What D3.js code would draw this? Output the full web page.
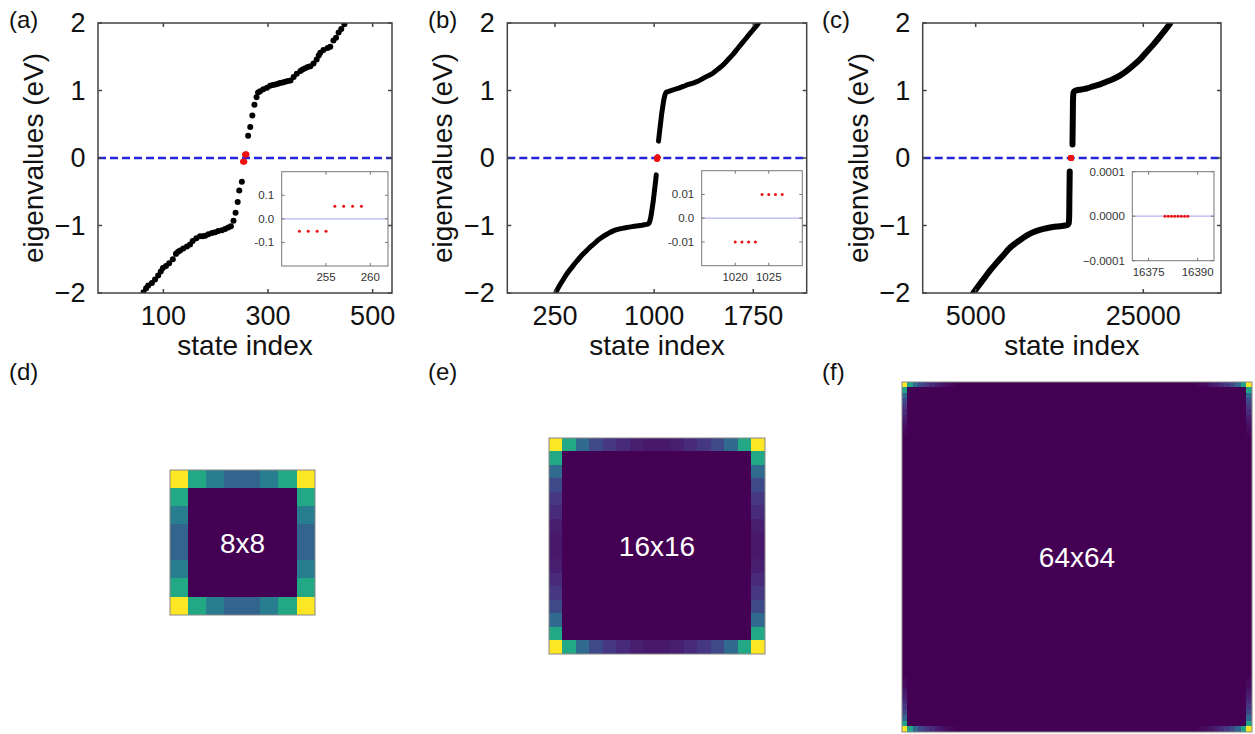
<!DOCTYPE html>
<html><head><meta charset="utf-8">
<script src="https://cdn.jsdelivr.net/npm/d3@7"></script>
<style>
body{margin:0;background:#fff;}
svg{display:block;font-family:"Liberation Sans",Arial,Helvetica,sans-serif;}
</style></head><body>
<svg id="fig" width="1255" height="734"></svg>
<script>
// ---------- spectra (state index, eigenvalue in eV) ----------
// 8x8 lattice: individual eigenvalues shown as dots
const stateA = [62,67,71,78,84,90,95,99,105,111,118,124,128,132,138,145,151,156,163,170,175,180,186,193,199,205,212,218,224,229,234,238,242,245,250,
  262,266,270,274,278,281,285,291,298,304,309,314,319,323,328,333,338,343,349,355,362,366,371,376,381,387,393,397,400,406,414,419,425,430,435,440,446];
const eigA = [-1.99,-1.93,-1.89,-1.85,-1.80,-1.74,-1.68,-1.63,-1.60,-1.56,-1.50,-1.42,-1.39,-1.37,-1.34,-1.31,-1.28,-1.23,-1.19,-1.16,-1.16,-1.15,-1.13,-1.11,-1.10,-1.08,-1.07,-1.05,-1.03,-1.01,-0.93,-0.81,-0.65,-0.48,-0.35,
  0.33,0.46,0.63,0.79,0.90,0.97,0.99,1.02,1.04,1.07,1.08,1.09,1.10,1.11,1.12,1.13,1.14,1.15,1.20,1.25,1.29,1.31,1.33,1.35,1.36,1.40,1.46,1.52,1.56,1.60,1.63,1.65,1.74,1.78,1.86,1.91,1.98];

// 16x16 lattice: valence and conduction branches
const specBLow = [[255,-2.0],[270,-1.94],[290,-1.87],[313,-1.80],[338,-1.72],[365,-1.65],[389,-1.59],[414,-1.53],[440,-1.47],[464,-1.42],[490,-1.37],[515,-1.32],[540,-1.28],[580,-1.21],[615,-1.16],[650,-1.12],[690,-1.08],[740,-1.05],[792,-1.03],[840,-1.015],[893,-1.0],[940,-0.985],[960,-0.97],[968,-0.93],[975,-0.87],[981,-0.80],[987,-0.72],[993,-0.64],[999,-0.54],[1005,-0.44],[1011,-0.34],[1016,-0.25]];
const specBHigh = [[1033,0.25],[1038,0.34],[1044,0.44],[1050,0.54],[1056,0.64],[1062,0.72],[1068,0.80],[1074,0.87],[1081,0.93],[1089,0.97],[1109,0.985],[1144,1.01],[1180,1.03],[1220,1.06],[1260,1.09],[1295,1.11],[1335,1.14],[1371,1.18],[1410,1.22],[1447,1.26],[1485,1.32],[1522,1.38],[1560,1.46],[1598,1.54],[1635,1.63],[1673,1.72],[1710,1.81],[1749,1.90],[1770,1.95],[1790,2.0]];

// 64x64 lattice: valence and conduction branches
const specCLow = [[4714,-2.0],[5300,-1.90],[5907,-1.80],[6700,-1.67],[7506,-1.55],[8300,-1.44],[9093,-1.33],[9900,-1.25],[10680,-1.18],[11500,-1.12],[12280,-1.08],[13100,-1.05],[13866,-1.03],[15000,-1.01],[15900,-0.995],[16100,-0.97],[16160,-0.85],[16180,-0.6],[16200,-0.4],[16220,-0.2]];
const specCHigh = [[16548,0.2],[16568,0.4],[16588,0.6],[16608,0.85],[16668,0.97],[16868,0.995],[17600,1.015],[18241,1.03],[19000,1.06],[19833,1.09],[20600,1.13],[21420,1.17],[22200,1.22],[23020,1.29],[23800,1.37],[24607,1.46],[25400,1.57],[26193,1.68],[26800,1.77],[27387,1.86],[28186,1.99]];

// in-gap (corner) states
const zeroStateA = [252,253,254,255,256,257,258,259];
const zeroEigA   = [-0.053,-0.053,-0.053,-0.053,0.053,0.053,0.053,0.053];
const zeroStateB = [1020,1021,1022,1023,1024,1025,1026,1027];
const zeroEigB   = [-0.01,-0.01,-0.01,-0.01,0.01,0.01,0.01,0.01];
const zeroStateC = [16380,16381,16382,16383,16384,16385,16386,16387];
const zeroEigC   = [0,0,0,0,0,0,0,0];

// axis ticks
const eigTicks = [-2,-1,0,1,2];
const eigTickLabels = ["\u22122","\u22121","0","1","2"];
const stateTicksA = [100,300,500];
const stateTicksB = [250,1000,1750];
const stateTicksC = [5000,25000];
const insetTicksA = {x:[255,260], y:[-0.1,0,0.1], yl:["-0.1","0.0","0.1"]};
const insetTicksB = {x:[1020,1025], y:[-0.01,0,0.01], yl:["-0.01","0.0","0.01"]};
const insetTicksC = {x:[16375,16390], y:[-0.0001,0,0.0001], yl:["\u22120.0001","0.0000","0.0001"]};

// corner-state weight along the lattice boundary, from a corner inward
const edge8  = [1.0, 0.6, 0.42, 0.32];
const edge16 = [1.0, 0.6, 0.34, 0.22, 0.16, 0.12, 0.085, 0.065];
const edge64 = [1.0, 0.58, 0.33, 0.22, 0.16, 0.12, 0.08, 0.05, 0.03, 0.015];

// ---------- drawing ----------
const svg = d3.select("#fig");
const TOP = 23, BOTTOM = 293;

function panelLabel(txt, x, y){
  svg.append("text").attr("x",x).attr("y",y).attr("font-size",24).attr("fill","#111").text(txt);
}

function framedTicks(g, x, y, xt, yt, len, color, sw){
  const [x0,x1] = x.range(), [y0,y1] = y.range(); // y0 bottom, y1 top
  const tk = g.append("g").attr("stroke",color).attr("stroke-width",sw);
  xt.forEach(v=>{
    tk.append("line").attr("x1",x(v)).attr("x2",x(v)).attr("y1",y0).attr("y2",y0-len);
    tk.append("line").attr("x1",x(v)).attr("x2",x(v)).attr("y1",y1).attr("y2",y1+len);
  });
  yt.forEach(v=>{
    tk.append("line").attr("y1",y(v)).attr("y2",y(v)).attr("x1",x0).attr("x2",x0+len);
    tk.append("line").attr("y1",y(v)).attr("y2",y(v)).attr("x1",x1).attr("x2",x1-len);
  });
  g.append("rect").attr("x",x0).attr("y",y1).attr("width",x1-x0).attr("height",y0-y1)
    .attr("fill","none").attr("stroke",color).attr("stroke-width",sw);
}

function eigPanel(cfg){
  const g = svg.append("g");
  const x = d3.scaleLinear().domain(cfg.xDomain).range([cfg.left, cfg.right]);
  const y = d3.scaleLinear().domain([-2,2]).range([BOTTOM, TOP]);
  const clipId = "clip-"+cfg.id;
  svg.append("clipPath").attr("id",clipId).append("rect")
    .attr("x",cfg.left).attr("y",TOP).attr("width",cfg.right-cfg.left).attr("height",BOTTOM-TOP);
  const plot = g.append("g").attr("clip-path",`url(#${clipId})`);

  plot.append("line").attr("x1",cfg.left).attr("x2",cfg.right).attr("y1",y(0)).attr("y2",y(0))
    .attr("stroke","#2424de").attr("stroke-width",2.4).attr("stroke-dasharray","8,4");

  if (cfg.dots){
    plot.selectAll("circle.s").data(d3.zip(cfg.dots[0], cfg.dots[1])).join("circle")
      .attr("cx",d=>x(d[0])).attr("cy",d=>y(d[1])).attr("r",3).attr("fill","#000");
  }
  if (cfg.lines){
    const line = d3.line().x(d=>x(d[0])).y(d=>y(d[1])).curve(d3.curveMonotoneX);
    cfg.lines.forEach(ln=>{
      plot.append("path").attr("d",line(ln)).attr("fill","none").attr("stroke","#000")
        .attr("stroke-width",cfg.lw).attr("stroke-linecap","round").attr("stroke-linejoin","round");
    });
  }
  plot.selectAll("circle.z").data(d3.zip(cfg.zero[0], cfg.zero[1])).join("circle")
    .attr("cx",d=>x(d[0])).attr("cy",d=>y(d[1])).attr("r",2.9).attr("fill","#ee1111");

  framedTicks(g, x, y, cfg.xTicks, eigTicks, 4, "#444", 1.5);

  // tick labels
  const lab = g.append("g").attr("font-size",27).attr("fill","#111");
  eigTicks.forEach((v,i)=>{
    lab.append("text").attr("x",cfg.left-12.5).attr("y",y(v)).attr("dy","0.35em")
      .attr("text-anchor","end").text(eigTickLabels[i]);
  });
  cfg.xTicks.forEach(v=>{
    lab.append("text").attr("x",x(v)).attr("y",BOTTOM+32).attr("text-anchor","middle").text(d3.format("d")(v));
  });
  g.append("text").attr("x",(cfg.left+cfg.right)/2).attr("y",355).attr("text-anchor","middle")
    .attr("font-size",28).attr("fill","#111").text("state index");
  g.append("text").attr("transform",`translate(${cfg.left-55},${(TOP+BOTTOM)/2}) rotate(-90)`)
    .attr("text-anchor","middle").attr("font-size",28).attr("fill","#111").text("eigenvalues (eV)");

  // inset zoom on the in-gap states
  const ins = cfg.inset;
  const ix = d3.scaleLinear().domain(ins.xDomain).range([ins.left, ins.right]);
  const iy = d3.scaleLinear().domain(ins.yDomain).range([ins.bottom, ins.top]);
  const ig = g.append("g");
  ig.append("rect").attr("x",ins.left).attr("y",ins.top).attr("width",ins.right-ins.left)
    .attr("height",ins.bottom-ins.top).attr("fill","#fff");
  ig.append("line").attr("x1",ins.left).attr("x2",ins.right).attr("y1",iy(0)).attr("y2",iy(0))
    .attr("stroke","#b3b5f2").attr("stroke-width",1.2);
  ig.selectAll("circle").data(d3.zip(cfg.zero[0], cfg.zero[1])).join("circle")
    .attr("cx",d=>ix(d[0])).attr("cy",d=>iy(d[1])).attr("r",1.5).attr("fill","#ee1111");
  framedTicks(ig, ix, iy, ins.ticks.x, ins.ticks.y, 3, "#777", 1);
  const il = ig.append("g").attr("font-size",11.5).attr("fill","#333");
  ins.ticks.y.forEach((v,i)=>{
    il.append("text").attr("x",ins.left-7.5).attr("y",iy(v)).attr("dy","0.35em")
      .attr("text-anchor","end").text(ins.ticks.yl[i]);
  });
  ins.ticks.x.forEach(v=>{
    il.append("text").attr("x",ix(v)).attr("y",ins.bottom+15).attr("text-anchor","middle").text(v);
  });
}

eigPanel({id:"a", left:98, right:392, xDomain:[-25,537], xTicks:stateTicksA,
  dots:[stateA, eigA], zero:[zeroStateA, zeroEigA],
  inset:{left:281.7,right:388,top:171.7,bottom:266,xDomain:[250,262],yDomain:[-0.2,0.2],ticks:insetTicksA}});
eigPanel({id:"b", left:507.3, right:806.7, xDomain:[-111,2154], xTicks:stateTicksB,
  lines:[specBLow, specBHigh], lw:5, zero:[zeroStateB, zeroEigB],
  inset:{left:701.7,right:802.3,top:170.7,bottom:265.7,xDomain:[1015,1030],yDomain:[-0.02,0.02],ticks:insetTicksB}});
eigPanel({id:"c", left:922.7, right:1221, xDomain:[-1325,34272], xTicks:stateTicksC,
  lines:[specCLow, specCHigh], lw:6, zero:[zeroStateC, zeroEigC],
  inset:{left:1132.3,right:1214,top:171.7,bottom:260.7,xDomain:[16370,16395],yDomain:[-0.0001,0.0001],ticks:insetTicksC}});

// ---------- corner-state maps ----------
function heatPanel(edge, n, x0, y0, size, label){
  const weight = k => edge[Math.min(k, n-1-k)] || 0;
  const cells = [];
  for (let r=0;r<n;r++) for (let c=0;c<n;c++){
    let v = 0;
    if (r===0 || r===n-1) v = weight(c);
    else if (c===0 || c===n-1) v = weight(r);
    cells.push({r,c,v});
  }
  const bx = d3.scaleBand().domain(d3.range(n)).range([x0, x0+size]);
  const by = d3.scaleBand().domain(d3.range(n)).range([y0, y0+size]);
  const color = d3.scaleSequential(d3.interpolateViridis).domain([0,1]);
  const g = svg.append("g");
  // oversized, crisp tiles so neighbouring cells leave no seams
  const pad = 0.6;
  g.append("g").attr("shape-rendering","crispEdges")
    .selectAll("rect").data(cells).join("rect")
    .attr("x",d=>bx(d.c)-pad/2).attr("y",d=>by(d.r)-pad/2)
    .attr("width",bx.bandwidth()+pad).attr("height",by.bandwidth()+pad)
    .attr("fill",d=>color(d.v));
  g.append("rect").attr("x",x0).attr("y",y0).attr("width",size).attr("height",size)
    .attr("fill","none").attr("stroke","#888").attr("stroke-width",1);
  g.append("text").attr("x",x0+size/2).attr("y",y0+size/2).attr("dy","0.36em")
    .attr("text-anchor","middle").attr("font-size",28).attr("fill","#fff").text(label);
}
heatPanel(edge8, 8, 170, 470, 145, "8x8");
heatPanel(edge16, 16, 549, 438, 216, "16x16");
heatPanel(edge64, 64, 902, 382, 350, "64x64");

panelLabel("(a)", 9, 27.5);
panelLabel("(b)", 428, 27.5);
panelLabel("(c)", 822, 27.5);
panelLabel("(d)", 9, 379.5);
panelLabel("(e)", 428, 379.5);
panelLabel("(f)", 822, 379.5);
</script>
</body></html>
